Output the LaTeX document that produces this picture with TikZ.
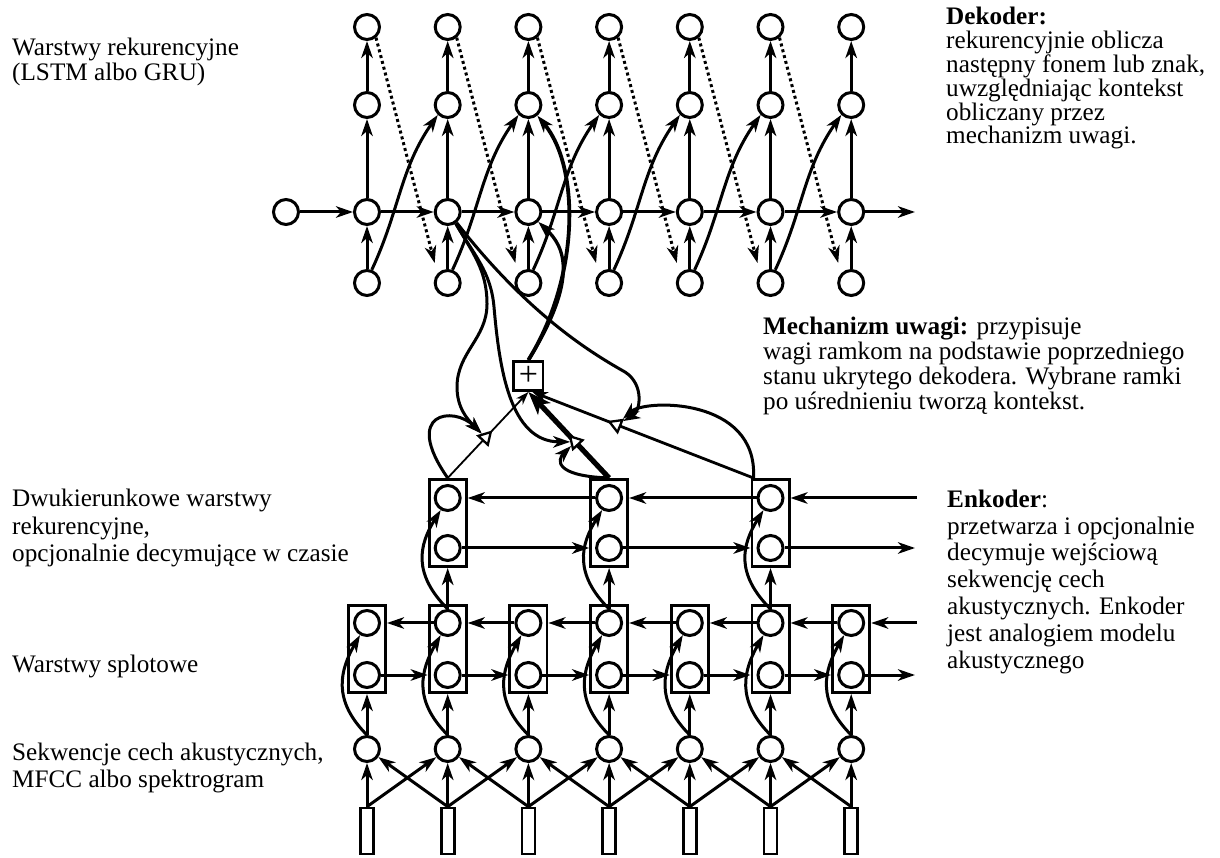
\documentclass[tikz,border=0pt]{standalone}
\usepackage{fontspec}
\setmainfont{Liberation Serif}
\usetikzlibrary{arrows.meta,shapes.geometric,calc}
\begin{document}
\begin{tikzpicture}[x=1pt,y=1pt,
 neuron/.style={circle,draw,line width=3pt,minimum size=25pt,inner sep=0pt},
 cell/.style={rectangle,draw,line width=2.8pt,minimum width=37.2pt,minimum height=87.2pt,inner sep=0pt},
 featbox/.style={rectangle,draw,line width=2.7pt,minimum width=13pt,minimum height=46pt,inner sep=0pt},
 arrowhd/.style={-{Stealth[length=17pt,width=11.5pt,inset=5pt]}},
 conn/.style={line width=3pt,arrowhd},
 dotconn/.style={conn,dash pattern=on 3pt off 3pt},
 gate/.style={regular polygon,regular polygon sides=3,draw,fill=white,line width=2.3pt,minimum size=15pt,inner sep=0pt},
 txt/.style={anchor=base west,align=left,inner sep=0pt},
]
\useasboundingbox (0,0) rectangle (1220,857);

% ---------- nodes ----------
\node[neuron] (d0) at (286,645) {};
\foreach \i in {1,...,7}{
  \pgfmathsetmacro{\xx}{286.3+80.7*\i}
  \node[neuron] (t\i) at (\xx,830) {};
  \node[neuron] (r\i) at (\xx,752) {};
  \node[neuron] (m\i) at (\xx,645) {};
  \node[neuron] (b\i) at (\xx,574) {};
  \node[cell] (cb\i) at (\xx,208) {};
  \node[neuron] (cu\i) at (\xx,234) {};
  \node[neuron] (cl\i) at (\xx,182) {};
  \node[neuron] (in\i) at (\xx,108) {};
  \node[featbox] (f\i) at (\xx,26) {};
}
\foreach \k/\i in {1/2,2/4,3/6}{
  \pgfmathsetmacro{\xx}{286.3+80.7*\i}
  \node[cell] (bb\k) at (\xx,334) {};
  \node[neuron] (bu\k) at (\xx,359) {};
  \node[neuron] (bl\k) at (\xx,309) {};
}
\node[rectangle,draw,line width=2.8pt,minimum size=29.2pt,inner sep=0pt,font=\fontsize{34pt}{34pt}\selectfont] (plus) at (528.4,481) {+};

\coordinate (dout) at (915,645);
\coordinate (eout) at (915,309);
\coordinate (ein) at (917,359);
\coordinate (cout) at (915,182);
\coordinate (cin) at (917,234);

% ---------- decoder ----------
\draw[conn] (d0) -- (m1);
\foreach \i in {1,...,7}{
  \draw[conn] (b\i) -- (m\i);
  \draw[conn] (m\i) -- (r\i);
  \draw[conn] (r\i) -- (t\i);
}
\foreach \i [evaluate=\i as \j using int(\i+1)] in {1,...,6}{
  \draw[conn] (m\i) -- (m\j);
  \draw[dotconn] (t\i.-50) -- ([shift={(-13,20)}]b\j.center);
  \draw[conn] (b\i.70) to[out=65,in=-125] (r\j.-135);
}
\draw[conn] (m7) -- (dout);

% ---------- inputs and convolution ----------
\foreach \i in {1,...,7}{
  \draw[conn] (f\i.north) -- (in\i);
  \draw[conn] (in\i) -- (cb\i.south);
  \draw[conn] (in\i.north) .. controls +(-35,35) and +(-20,-35) .. (cu\i.240);
}
\foreach \i [evaluate=\i as \j using int(\i+1)] in {1,...,6}{
  \draw[conn] (f\i.north) -- (in\j);
  \draw[conn] (f\j.north) -- (in\i);
  \draw[conn] (cl\i) -- (cb\j.west |- cl\j);
  \draw[conn] (cu\j) -- (cb\i.east |- cu\i);
}
\draw[conn] (cl7) -- (cout);
\draw[conn] (cin) -- (cb7.east |- cu7);

% ---------- bidirectional layer ----------
\foreach \k/\i in {1/2,2/4,3/6}{
  \draw[conn] (cu\i) -- (bb\k.south);
  \draw[conn] (cu\i.north) .. controls +(-35,35) and +(-22,-35) .. (bu\k.240);
}
\draw[conn] (bl1) -- (bb2.west |- bl2);
\draw[conn] (bl2) -- (bb3.west |- bl3);
\draw[conn] (bl3) -- (eout);
\draw[conn] (ein) -- (bb3.east |- bu3);
\draw[conn] (bu3) -- (bb2.east |- bu2);
\draw[conn] (bu2) -- (bb1.east |- bu1);

% ---------- attention ----------
\draw[line width=1.8pt,-{Stealth[length=13pt,width=9pt,inset=4pt]}] (bb1.north) -- node[gate,pos=0.47,shape border rotate=-43] (w1) {} (plus.south);
\draw[line width=5.2pt,-{Stealth[length=23pt,width=17pt,inset=6pt]}] (bb2.north) -- node[gate,pos=0.42,shape border rotate=43] (w2) {} (plus.south);
\draw[line width=2.8pt,-{Stealth[length=15pt,width=11pt,inset=4.5pt]}] ([xshift=3pt]bb3.north west) -- node[gate,pos=0.62,shape border rotate=68] (w3) {} ([xshift=4pt]plus.south);

\draw[conn] (m2.-55) to[out=-60,in=90] (487,553) to[out=-90,in=90] (457,470) to[out=-90,in=135] (w1);
\draw[conn] (m2.-55) to[out=-60,in=95] (494,550) to[out=-85,in=180] (w2);
\draw[conn] (m2.-50) .. controls (530,540) and (595,502) .. (625,485) .. controls (645,472) and (640,445) .. (w3);

\draw[conn] (bb1.north) .. controls +(-46,66) and +(-32,32) .. (w1);
\draw[conn] (bb2.north) .. controls +(-55,2) and +(-18,-18) .. (w2);
\draw[conn] ([xshift=3pt]bb3.north west) .. controls (758,460) and (645,458) .. (w3);

\draw[line width=3.8pt,arrowhd] (plus.north) .. controls (580,580) and (580,690) .. (r3.-50);
\draw[line width=3.3pt,arrowhd] (plus.north) .. controls (580,580) and (564,611) .. (m3.-45);

% ---------- texts (anchor = baseline of the last line) ----------
\node[txt,font=\fontsize{25.2pt}{25pt}\selectfont] (lrec) at (12,776) {Warstwy rekurencyjne\\(LSTM albo GRU)};
\node[txt,font=\fontsize{25.2pt}{23.8pt}\selectfont] (ldec) at (946,713) {\textbf{Dekoder:}\\rekurencyjnie oblicza\\następny fonem lub znak,\\uwzględniając kontekst\\obliczany przez\\mechanizm uwagi.};
\node[txt,font=\fontsize{25.2pt}{25pt}\selectfont] (latt) at (763,447) {\textbf{Mechanizm uwagi:} przypisuje\\wagi ramkom na podstawie poprzedniego\\stanu ukrytego dekodera. Wybrane ramki\\po uśrednieniu tworzą kontekst.};
\node[txt,font=\fontsize{25.2pt}{26.8pt}\selectfont] (lenc) at (947,189) {\textbf{Enkoder}:\\przetwarza i opcjonalnie\\decymuje wejściową\\sekwencję cech\\akustycznych. Enkoder\\jest analogiem modelu\\akustycznego};
\node[txt,font=\fontsize{25.2pt}{27.5pt}\selectfont] (lbi) at (12,295) {Dwukierunkowe warstwy\\rekurencyjne,\\opcjonalnie decymujące w czasie};
\node[txt,font=\fontsize{25.2pt}{25pt}\selectfont] (lconv) at (12,185) {Warstwy splotowe};
\node[txt,font=\fontsize{25.2pt}{27pt}\selectfont] (lin) at (12,70) {Sekwencje cech akustycznych,\\MFCC albo spektrogram};
\end{tikzpicture}
\end{document}
